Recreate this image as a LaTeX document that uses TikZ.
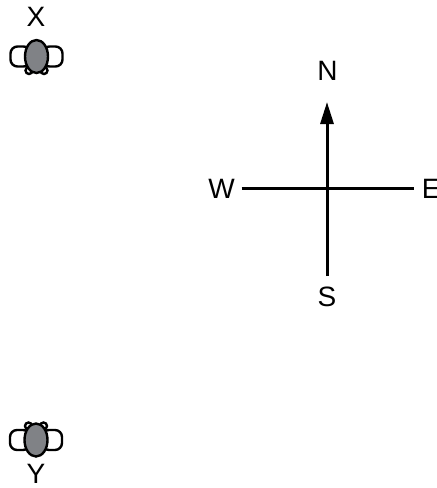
\documentclass[tikz,border=0pt]{standalone}
\usepackage{fontspec}
\setmainfont{Liberation Sans}
\usetikzlibrary{arrows.meta}

\definecolor{figgray}{RGB}{128,130,134}
\tikzset{
  figline/.style={draw=black,line width=1.2pt},
  crossline/.style={draw=black,line width=1.5pt},
  dirlabel/.style={font=\fontsize{14}{16}\selectfont,inner sep=0pt},
  person/.pic={
    \draw[figline,fill=white,rounded corners=3.5pt] (-26,-10) rectangle (-6,10);
    \draw[figline,fill=white,rounded corners=3.5pt] (6,-10) rectangle (26,10);
    \draw[figline,fill=white] (-7.5,14) circle[radius=1.75pt];
    \draw[figline,fill=white] (7.5,14) circle[radius=1.75pt];
    \draw[figline,fill=figgray] (0,0) ellipse[x radius=5.75pt,y radius=8.25pt];
  }
}

\begin{document}
\begin{tikzpicture}[x=0.5pt,y=-0.5pt]
           \useasboundingbox (0,0) rectangle (436,488);
           % people
           \pic (px) at (36.5,56.5) {person};
           \pic[yscale=-1] (py) at (36,440) {person};
           \node[dirlabel] (xlbl) at (36,17) {X};
           \node[dirlabel] (ylbl) at (36,474) {Y};
           % compass
           \coordinate (top) at (327,102);
           \coordinate (bottom) at (327,276);
           \coordinate (left) at (241.5,188);
           \coordinate (right) at (414,188);
           \draw[crossline,-{Triangle[length=11pt,width=6.5pt]}] (bottom) -- (top);
           \draw[crossline] (left) -- (right);
           \node[dirlabel] (n) at (327.5,71) {N};
           \node[dirlabel] (s) at (327,297) {S};
           \node[dirlabel] (w) at (221.5,189) {W};
           \node[dirlabel,anchor=west] (e) at (421.5,189) {E};
        \end{tikzpicture}
\end{document}
